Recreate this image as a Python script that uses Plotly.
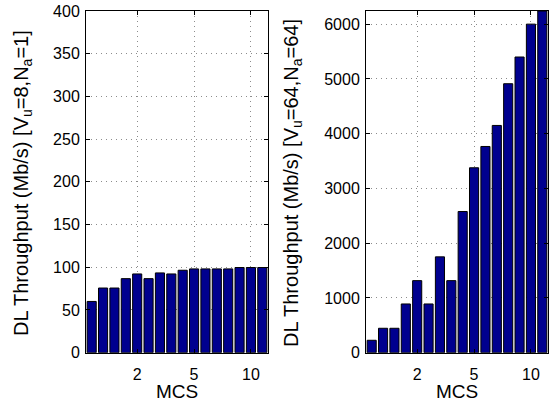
import plotly.graph_objects as go

# MCS index (bar slots) and the tick labels shown under them
mcs_index = list(range(1, 17))
tick_positions = [5, 10, 15]
tick_labels = ["2", "5", "10"]

# Downlink throughput (Mb/s) per MCS
throughput_single = [60, 75.7, 75.7, 86.7, 92.2, 86.7, 93.4, 92.2,
                     96.5, 98.1, 98.1, 98.1, 98.1, 99.7, 99.7, 99.7]
throughput_massive = [227, 446, 446, 890, 1316, 890, 1750, 1316,
                      2578, 3377, 3766, 4150, 4912, 5400, 6000, 6240]

left_title = "DL Throughput (Mb/s) [V<sub>u</sub>=8,N<sub>a</sub>=1]"
right_title = "DL Throughput (Mb/s) [V<sub>u</sub>=64,N<sub>a</sub>=64]"

W, H = 550, 402
FONT = "Liberation Sans, Arial, Helvetica, sans-serif"
BAR = "#00008F"
GRID = "#8c8c8c"

fig = go.Figure()
fig.add_trace(go.Bar(x=mcs_index, y=throughput_single, xaxis="x", yaxis="y",
                     marker=dict(color=BAR, line=dict(color="black", width=1)),
                     width=0.8, showlegend=False))
fig.add_trace(go.Bar(x=mcs_index, y=throughput_massive, xaxis="x2", yaxis="y2",
                     marker=dict(color=BAR, line=dict(color="black", width=1)),
                     width=0.8, showlegend=False))

ydom = [1 - 352.7 / H, 1 - 11 / H]
common_x = dict(range=[0.5, 16.5], tickmode="array", tickvals=tick_positions,
                ticktext=tick_labels, ticks="inside", ticklen=4, tickcolor="black",
                showline=True, linecolor="black", linewidth=1, mirror="allticks",
                showgrid=True, gridcolor=GRID, griddash="1px,4px", gridwidth=1,
                zeroline=False, ticklabelstandoff=7, automargin=False,
                tickfont=dict(family=FONT, size=16, color="black"))
common_y = dict(ticks="inside", ticklen=4, tickcolor="black", showline=True,
                linecolor="black", linewidth=1, mirror="allticks", showgrid=True,
                gridcolor=GRID, griddash="1px,4px", gridwidth=1, zeroline=False,
                ticklabelstandoff=2, automargin=False,
                tickfont=dict(family=FONT, size=16, color="black"))


def label(text, x, y, angle=0, size=19):
    return dict(text=text, x=x / W, y=1 - y / H, xref="paper", yref="paper",
                xanchor="center", yanchor="middle", textangle=angle,
                showarrow=False, font=dict(family=FONT, size=size, color="black"))


fig.update_layout(
    template="none",
    width=W, height=H,
    margin=dict(l=0, r=0, t=0, b=0, pad=0),
    paper_bgcolor="white", plot_bgcolor="white",
    xaxis=dict(domain=[86 / W, 268 / W], anchor="y", **common_x),
    yaxis=dict(domain=ydom, anchor="x", range=[0, 400], dtick=50, **common_y),
    xaxis2=dict(domain=[366 / W, 548 / W], anchor="y2", **common_x),
    yaxis2=dict(domain=ydom, anchor="x2", range=[0, 6240],
                tickvals=[0, 1000, 2000, 3000, 4000, 5000, 6000], **common_y),
    annotations=[
        label("MCS", 177, 391),
        label("MCS", 457, 391),
        label(left_title, 22, 183, angle=-90, size=20),
        label(right_title, 292, 183, angle=-90, size=20),
    ],
)

fig.write_html("out.html")
